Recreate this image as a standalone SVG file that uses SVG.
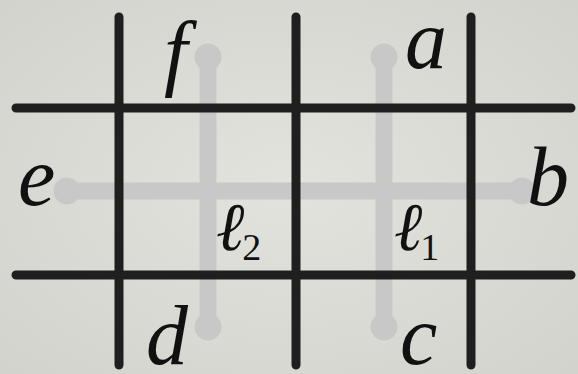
<svg xmlns="http://www.w3.org/2000/svg" width="578" height="374" viewBox="0 0 578 374">
<defs>
<radialGradient id="bg" cx="50%" cy="50%" r="70%">
<stop offset="0" stop-color="#e3e3de"/>
<stop offset="1" stop-color="#d3d3cd"/>
</radialGradient>
<style>
.grid{stroke:#1f1f1f;stroke-width:9;stroke-linecap:round;fill:none}
.path{stroke:#c8c8c8;stroke-width:17;stroke-linecap:butt;fill:none}
.dot{fill:#c8c8c8}
.lbl{font-family:"Liberation Serif","DejaVu Serif",serif;font-style:italic;font-size:84px;fill:#111}
.sub{font-family:"Liberation Serif","DejaVu Serif",serif;font-style:normal;font-size:38px;fill:#111}
.ell{font-family:"Liberation Serif","DejaVu Serif",serif;font-style:italic;font-size:68px;fill:#111}
</style>
</defs>
<rect width="578" height="374" fill="url(#bg)"/>
<g id="paths">
<path class="path" d="M208 57V327M384 57V327M67 191H522"/>
<circle class="dot" cx="208" cy="57" r="13.5"/>
<circle class="dot" cx="208" cy="327" r="13.5"/>
<circle class="dot" cx="384" cy="57" r="13.5"/>
<circle class="dot" cx="384" cy="327" r="13.5"/>
<circle class="dot" cx="67" cy="191" r="13.5"/>
<circle class="dot" cx="522" cy="191" r="13.5"/>
</g>
<g id="grid">
<path class="grid" d="M119 17V365M296 17V365M471 17V365M16 108H571M16 275H571"/>
</g>
<g id="labels">
<text class="lbl" x="164" y="80">f</text>
<text class="lbl" x="405" y="68">a</text>
<text class="lbl" x="527" y="205">b</text>
<text class="lbl" x="18" y="205">e</text>
<text class="lbl" x="146" y="364">d</text>
<text class="lbl" x="400" y="364">c</text>
<text x="216" y="250"><tspan class="ell">ℓ</tspan><tspan class="sub" dx="-2" dy="10">2</tspan></text>
<text x="394" y="250"><tspan class="ell">ℓ</tspan><tspan class="sub" dx="-2" dy="10">1</tspan></text>
</g>
</svg>
